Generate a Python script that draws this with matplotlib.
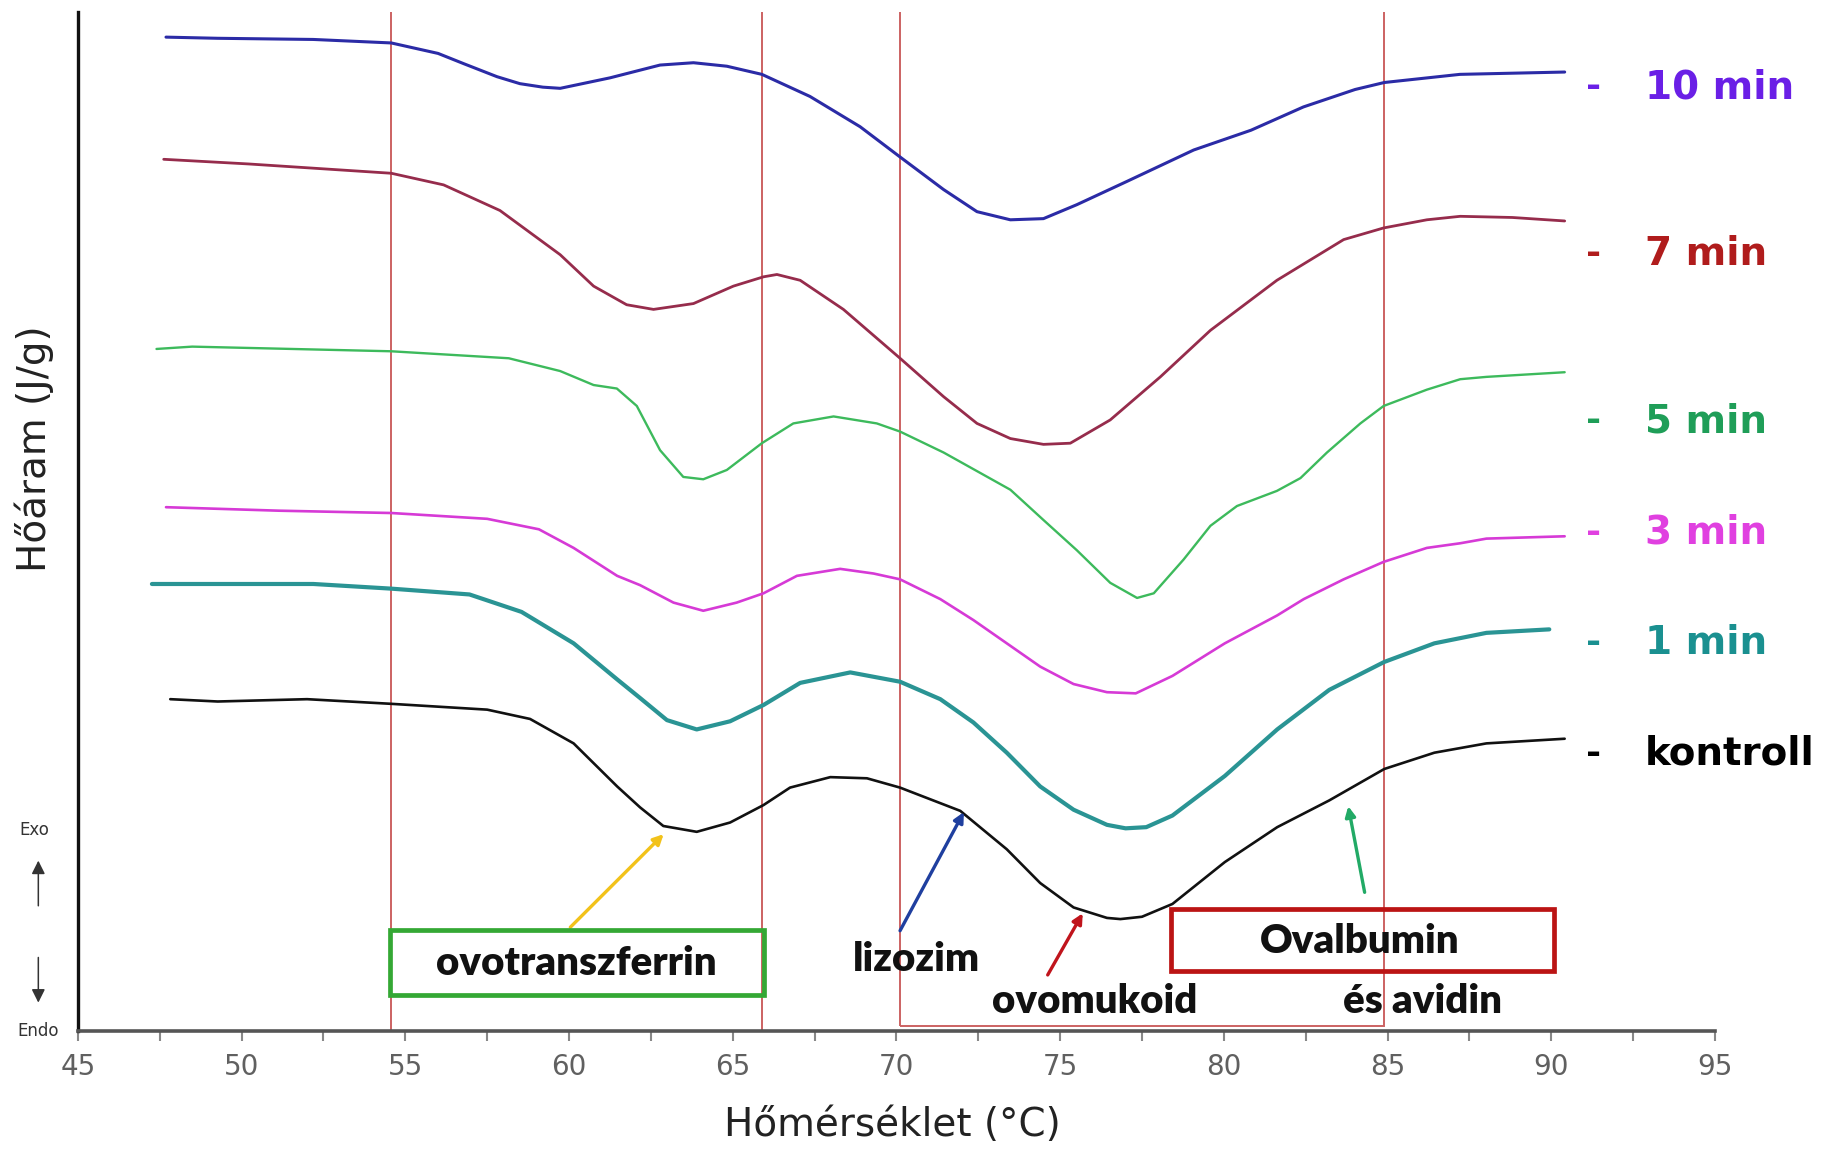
import matplotlib
matplotlib.use("Agg")
import matplotlib.pyplot as plt
from matplotlib.patches import Rectangle, FancyArrowPatch

# hőmérséklet (°C) és hőáram (tetszőleges egység)
t_10 = [47.69, 49.27, 52.19, 54.57, 56.0, 56.8, 57.8, 58.5, 59.2, 59.73, 61.25, 62.78, 63.80,
        64.82, 65.89, 67.36, 68.89, 70.11, 71.44, 72.46, 73.48, 74.49, 75.51, 77.04, 79.08,
        80.83, 82.43, 84.01, 84.90, 87.21, 90.41]
hf_10 = [8.54, 8.53, 8.52, 8.49, 8.40, 8.31, 8.20, 8.14, 8.11, 8.10, 8.19, 8.30, 8.32,
         8.29, 8.22, 8.03, 7.77, 7.51, 7.23, 7.04, 6.97, 6.98, 7.10, 7.30, 7.57,
         7.74, 7.94, 8.09, 8.15, 8.22, 8.24]

t_7 = [47.62, 50.21, 54.57, 56.17, 57.89, 59.73, 60.75, 61.76, 62.58, 63.80, 65.02, 65.94,
       66.35, 67.06, 68.38, 70.11, 71.44, 72.46, 73.48, 74.49, 75.31, 76.53, 78.06, 79.59,
       81.62, 83.66, 84.88, 86.20, 87.22, 88.81, 90.41]
hf_7 = [7.49, 7.45, 7.37, 7.27, 7.05, 6.67, 6.40, 6.24, 6.20, 6.25, 6.40, 6.48,
        6.50, 6.45, 6.20, 5.78, 5.45, 5.22, 5.09, 5.04, 5.05, 5.25, 5.62, 6.02,
        6.45, 6.80, 6.90, 6.97, 7.00, 6.99, 6.96]

t_5 = [47.40, 48.49, 54.57, 58.16, 59.73, 60.75, 61.46, 62.07, 62.78, 63.49, 64.10, 64.82,
       65.89, 66.85, 68.08, 69.40, 70.11, 71.44, 73.48, 74.49, 75.51, 76.53, 77.35, 77.86,
       78.77, 79.59, 80.40, 81.62, 82.34, 83.15, 84.17, 84.88, 86.20, 87.22, 88.02, 90.41]
hf_5 = [5.86, 5.88, 5.84, 5.78, 5.67, 5.55, 5.52, 5.37, 4.99, 4.76, 4.74, 4.82,
        5.05, 5.22, 5.28, 5.22, 5.15, 4.97, 4.65, 4.39, 4.13, 3.85, 3.72, 3.76,
        4.05, 4.34, 4.51, 4.64, 4.75, 4.97, 5.22, 5.37, 5.51, 5.60, 5.62, 5.66]

t_3 = [47.69, 51.13, 54.57, 57.50, 59.08, 60.14, 61.47, 62.17, 63.19, 64.10, 65.12, 65.94,
       66.96, 68.28, 69.30, 70.11, 71.34, 72.35, 73.37, 74.39, 75.41, 76.43, 77.31, 78.43,
       80.03, 81.63, 82.44, 83.66, 84.88, 86.20, 87.22, 88.02, 90.41]
hf_3 = [4.50, 4.47, 4.45, 4.40, 4.31, 4.15, 3.91, 3.83, 3.68, 3.61, 3.68, 3.76,
        3.91, 3.97, 3.93, 3.88, 3.71, 3.53, 3.33, 3.13, 2.98, 2.91, 2.90, 3.05,
        3.33, 3.57, 3.71, 3.88, 4.03, 4.15, 4.19, 4.23, 4.25]

t_1 = [47.26, 52.19, 54.57, 56.96, 58.55, 60.14, 61.47, 62.17, 62.99, 63.90, 64.92, 65.94,
       67.06, 68.59, 70.11, 71.34, 72.35, 73.37, 74.39, 75.41, 76.43, 77.0, 77.63, 78.43,
       80.03, 81.63, 83.22, 84.90, 86.43, 88.02, 89.94]
hf_1 = [3.84, 3.84, 3.80, 3.75, 3.60, 3.33, 3.02, 2.86, 2.67, 2.59, 2.66, 2.80,
        2.99, 3.08, 3.00, 2.85, 2.65, 2.39, 2.10, 1.90, 1.77, 1.74, 1.75, 1.85,
        2.19, 2.59, 2.93, 3.17, 3.33, 3.42, 3.45]

t_k = [47.82, 49.27, 52.0, 54.57, 57.50, 58.81, 60.14, 61.47, 62.17, 62.88, 63.90, 64.92,
       65.94, 66.75, 67.98, 69.10, 70.11, 71.95, 73.37, 74.39, 75.41, 76.43, 76.84, 77.5,
       78.43, 80.03, 81.63, 83.22, 84.90, 86.43, 88.02, 90.41]
hf_k = [2.85, 2.83, 2.85, 2.81, 2.76, 2.68, 2.47, 2.10, 1.92, 1.76, 1.71, 1.79,
        1.94, 2.09, 2.18, 2.17, 2.09, 1.89, 1.56, 1.27, 1.06, 0.97, 0.96, 0.98,
        1.09, 1.45, 1.75, 1.98, 2.25, 2.39, 2.47, 2.51]

labels = ["10 min", "7 min", "5 min", "3 min", "1 min", "kontroll"]
line_colors = ["#2b2ba6", "#962c4c", "#3dba5c", "#d63ad6", "#2a9494", "#111111"]
label_colors = ["#6a1fe6", "#b01c1c", "#1f9e58", "#e040e0", "#1a9090", "#000000"]
line_widths = [2.2, 2.0, 1.7, 1.9, 3.0, 1.9]
label_y = [8.11, 6.68, 5.24, 4.28, 3.33, 2.38]

# fehérje-tartományok (°C)
zone_1 = (54.57, 65.90)
zone_2 = (70.11, 84.90)

fig = plt.figure(figsize=(18.25, 11.53), dpi=100)
ax = fig.add_axes([0.0427, 0.106, 0.897, 0.884])

series = [(t_10, hf_10), (t_7, hf_7), (t_5, hf_5), (t_3, hf_3), (t_1, hf_1), (t_k, hf_k)]
for (t, hf), c, lw in zip(series, line_colors, line_widths):
    ax.plot(t, hf, color=c, lw=lw, solid_joinstyle="round", solid_capstyle="round", zorder=3)

# függőleges tartományhatárok
zc = "#cc6262"
ax.add_patch(Rectangle((zone_1[0], 0.0), zone_1[1] - zone_1[0], 10, fill=False,
                       ec=zc, lw=1.4, zorder=2))
ax.add_patch(Rectangle((zone_2[0], 0.04), zone_2[1] - zone_2[0], 10, fill=False,
                       ec=zc, lw=1.4, zorder=2))

# címkék jobb oldalon
for lab, c, y in zip(labels, label_colors, label_y):
    ax.text(91.3, y, "-", color=c, fontsize=26, fontweight="bold", ha="center", va="center",
            clip_on=False)
    ax.text(92.85, y, lab, color=c, fontsize=28, fontweight="bold", ha="left", va="center",
            clip_on=False)

# fehérje feliratok
afont = dict(fontsize=29, fontweight="heavy", family=["Lato", "DejaVu Sans"], color="#111111")
ax.add_patch(Rectangle((54.53, 0.31), 65.95 - 54.53, 0.56, fill=False, ec="#34a834", lw=3.4,
                       zorder=4))
ax.text(60.22, 0.58, "ovotranszferrin", ha="center", va="center", **afont)
ax.add_patch(Rectangle((78.39, 0.51), 90.09 - 78.39, 0.54, fill=False, ec="#bb1414", lw=3.4,
                       zorder=4))
ax.text(84.15, 0.77, "Ovalbumin", ha="center", va="center", **afont)
ax.text(70.60, 0.61, "lizozim", ha="center", va="center", **afont)
ax.text(76.05, 0.25, "ovomukoid", ha="center", va="center", **afont)
ax.text(86.07, 0.25, "és avidin", ha="center", va="center", **afont)

arrows = [((60.04, 0.89), (62.89, 1.69), "#f2c21a"),
          ((70.11, 0.86), (72.06, 1.88), "#1f3f9f"),
          ((74.62, 0.48), (75.69, 1.01), "#c0141c"),
          ((84.30, 1.19), (83.80, 1.93), "#22aa66")]
for start, end, c in arrows:
    ax.annotate("", xy=end, xytext=start,
                arrowprops=dict(arrowstyle="-|>,head_length=0.6,head_width=0.3", color=c,
                                lw=2.4, shrinkA=0, shrinkB=0))

ax.set_xlim(45, 95)
ax.set_ylim(0, 8.76)
ax.set_yticks([])
ax.set_xticks(range(45, 96, 5))
ax.set_xticks([47.5 + 5 * i for i in range(10)], minor=True)
ax.tick_params(axis="x", which="both", direction="out", length=7, width=1.5, color="#888888",
               labelsize=20, labelcolor="#606060", pad=9)

for s in ["top", "right"]:
    ax.spines[s].set_visible(False)
ax.spines["left"].set_color("#111111")
ax.spines["left"].set_linewidth(2.4)
ax.spines["bottom"].set_color("#555555")
ax.spines["bottom"].set_linewidth(2.6)

fig.text(0.489, 0.024, "Hőmérséklet (°C)", ha="center", va="center", fontsize=28,
         color="#222222")
fig.text(0.019, 0.611, "Hőáram (J/g)", ha="center", va="center", rotation=90, fontsize=28,
         color="#222222")

# Exo / Endo jelölés
fig.text(0.019, 0.28, "Exo", ha="center", va="center", fontsize=12, color="#333333")
fig.text(0.021, 0.106, "Endo", ha="center", va="center", fontsize=12, color="#333333")
for a, b in [((0.021, 0.212), (0.021, 0.256)), ((0.021, 0.172), (0.021, 0.128))]:
    fig.patches.append(FancyArrowPatch(a, b, transform=fig.transFigure,
                                       arrowstyle="-|>,head_length=4,head_width=2",
                                       color="#333333", lw=1.1, mutation_scale=2))

fig.savefig("out.png", dpi=100)
